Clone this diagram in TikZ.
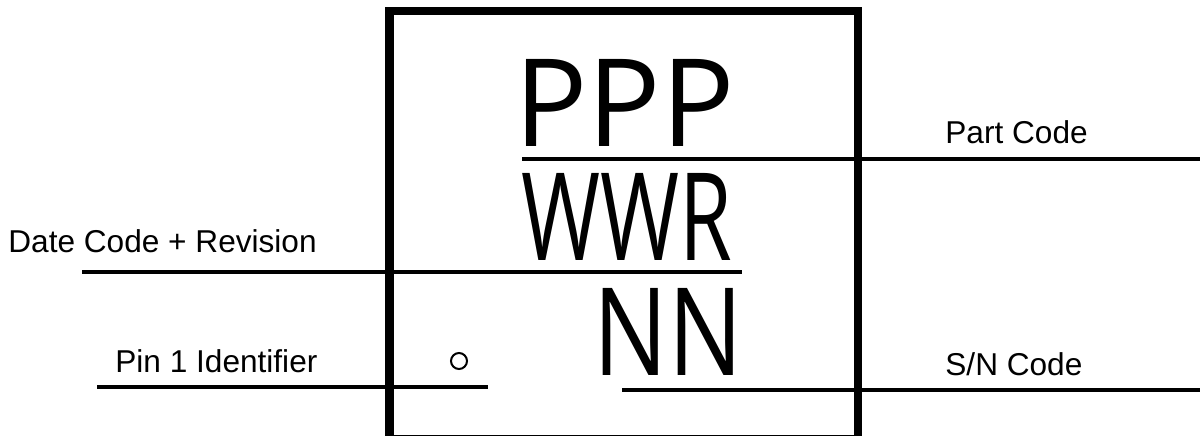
\documentclass[tikz,border=0pt]{standalone}
\usepackage{fontspec}
\usepackage{graphicx}
\setmainfont{Liberation Sans}
\newfontfamily\markfont{Open Sans}
\tikzset{
  pkgedge/.style={line width=4.2pt},
  leader/.style={line width=2pt},
  callout/.style={inner sep=0pt,anchor=base west,font=\fontsize{15.8}{18}\selectfont},
  marking/.style={inner sep=0pt,font=\markfont\fontsize{61}{61}\selectfont},
  pinmark/.style={circle,draw,line width=1pt,minimum size=8pt,inner sep=0pt}
}
\begin{document}
\begin{tikzpicture}[x=0.5pt,y=-0.5pt]
\useasboundingbox (0,0) rectangle (1200,435);
\clip (0,0) rectangle (1200,435);
% package outline
\draw[pkgedge] (389.5,11) rectangle (858,439);
% marking lines
\node[marking,anchor=base west] (ppp) at (514,146) {PPP};
\node[marking,anchor=base west] (wwr) at (521,260) {\scalebox{0.7}[1]{WWR}};
\node[marking,anchor=base east] (nn) at (743,375) {\scalebox{0.81}[1]{NN}};
\node[pinmark] (pin) at (459,361) {};
% callouts
\node[callout] (partlbl) at (945,143) {Part Code};
\node[callout] (datelbl) at (8,252) {Date Code + Revision};
\node[callout] (pinlbl) at (115,372) {Pin 1 Identifier};
\node[callout] (snlbl) at (945,375) {S/N Code};
\coordinate (part1) at (522,159); \coordinate (part2) at (1202,159);
\coordinate (date1) at (82,272); \coordinate (date2) at (742,272);
\coordinate (pin1) at (97,387); \coordinate (pin2) at (488,387);
\coordinate (sn1) at (622,390); \coordinate (sn2) at (1202,390);
\draw[leader] (part1)--(part2);
\draw[leader] (date1)--(date2);
\draw[leader] (pin1)--(pin2);
\draw[leader] (sn1)--(sn2);
\end{tikzpicture}
\end{document}
